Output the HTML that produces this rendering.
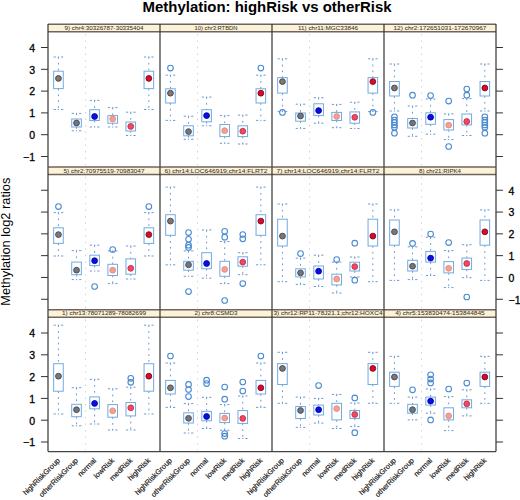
<!DOCTYPE html>
<html><head><meta charset="utf-8"><title>Methylation: highRisk vs otherRisk</title>
<style>html,body{margin:0;padding:0;background:#fff;}svg{display:block;}text{font-family:"Liberation Sans", sans-serif;}.u{stroke:#6a9ad2;stroke-width:1;stroke-dasharray:1.8 4;fill:none;}.c{stroke:#6a9ad2;stroke-width:1;fill:none;}.b{stroke:#72aae2;stroke-width:1;fill:none;}.o{stroke:#4a8ad0;stroke-width:1.1;fill:none;}</style></head><body>
<svg width="520" height="500" viewBox="0 0 520 500">
<rect width="520" height="500" fill="#fff"/>
<g>
<text x="267.1" y="11.5" text-anchor="middle" font-size="14.2" font-weight="bold" fill="#000" textLength="249" lengthAdjust="spacingAndGlyphs">Methylation: highRisk vs otherRisk</text>
<text transform="translate(10.2,241.7) rotate(-90)" text-anchor="middle" font-size="12" fill="#000" textLength="128" lengthAdjust="spacingAndGlyphs">Methylation log2 ratios</text>
<rect x="48" y="24" width="112" height="8" fill="#fcf2da"/>
<text x="104" y="29.95" text-anchor="middle" font-size="5.8" fill="#3e3226" stroke="#3e3226" stroke-width="0.05" textLength="79" lengthAdjust="spacingAndGlyphs">9) chr4:30326787-30335404</text>
<line x1="85.57" y1="34" x2="85.57" y2="165.75" stroke="#d8d0d0" stroke-width="1" stroke-dasharray="1.5 5"/>
<line x1="58.45" y1="57" x2="58.45" y2="71.2" class="u"/>
<line x1="58.45" y1="88.6" x2="58.45" y2="109.5" class="u"/>
<path d="M53.65 57h2.2M57.85 57h1.2M61.05 57h2.2" class="c"/>
<path d="M53.65 109.5h2.2M57.85 109.5h1.2M61.05 109.5h2.2" class="c"/>
<rect x="53.65" y="71.2" width="9.6" height="17.4" class="b"/>
<circle cx="58.45" cy="78.4" r="2.9" fill="#7c7878" stroke="#484242" stroke-width="0.9"/>
<line x1="76.53" y1="113.4" x2="76.53" y2="119" class="u"/>
<line x1="76.53" y1="127" x2="76.53" y2="130.8" class="u"/>
<path d="M71.73 113.4h2.2M75.93 113.4h1.2M79.13 113.4h2.2" class="c"/>
<path d="M71.73 130.8h2.2M75.93 130.8h1.2M79.13 130.8h2.2" class="c"/>
<rect x="71.73" y="119" width="9.6" height="8" class="b"/>
<circle cx="76.53" cy="123" r="2.9" fill="#70767c" stroke="#434a52" stroke-width="0.9"/>
<line x1="94.61" y1="100.4" x2="94.61" y2="109.7" class="u"/>
<line x1="94.61" y1="120.5" x2="94.61" y2="127" class="u"/>
<path d="M89.81 100.4h2.2M94.01 100.4h1.2M97.21 100.4h2.2" class="c"/>
<path d="M89.81 127h2.2M94.01 127h1.2M97.21 127h2.2" class="c"/>
<rect x="89.81" y="109.7" width="9.6" height="10.8" class="b"/>
<circle cx="94.61" cy="116.5" r="2.9" fill="#0a0ee0" stroke="#0000a8" stroke-width="0.9"/>
<line x1="112.69" y1="107.6" x2="112.69" y2="115.6" class="u"/>
<line x1="112.69" y1="123.2" x2="112.69" y2="127" class="u"/>
<path d="M107.89 107.6h2.2M112.09 107.6h1.2M115.29 107.6h2.2" class="c"/>
<path d="M107.89 127h2.2M112.09 127h1.2M115.29 127h2.2" class="c"/>
<rect x="107.89" y="115.6" width="9.6" height="7.6" class="b"/>
<circle cx="112.69" cy="119" r="2.9" fill="#f4a090" stroke="#e48a80" stroke-width="0.9"/>
<line x1="130.77" y1="112.2" x2="130.77" y2="122" class="u"/>
<line x1="130.77" y1="131" x2="130.77" y2="135.5" class="u"/>
<path d="M125.97 112.2h2.2M130.17 112.2h1.2M133.37 112.2h2.2" class="c"/>
<path d="M125.97 135.5h2.2M130.17 135.5h1.2M133.37 135.5h2.2" class="c"/>
<rect x="125.97" y="122" width="9.6" height="9" class="b"/>
<circle cx="130.77" cy="126.4" r="2.9" fill="#ea4a62" stroke="#c82a44" stroke-width="0.9"/>
<line x1="148.85" y1="57" x2="148.85" y2="71.2" class="u"/>
<line x1="148.85" y1="88.6" x2="148.85" y2="109.5" class="u"/>
<path d="M144.05 57h2.2M148.25 57h1.2M151.45 57h2.2" class="c"/>
<path d="M144.05 109.5h2.2M148.25 109.5h1.2M151.45 109.5h2.2" class="c"/>
<rect x="144.05" y="71.2" width="9.6" height="17.4" class="b"/>
<circle cx="148.85" cy="78.4" r="2.9" fill="#d0102a" stroke="#900018" stroke-width="0.9"/>
<line x1="48" y1="24.2" x2="160" y2="24.2" stroke="#6e6658" stroke-width="1.4"/>
<line x1="48" y1="31.7" x2="160" y2="31.7" stroke="#6e6658" stroke-width="1.4"/>
<rect x="160" y="24" width="112" height="8" fill="#fcf2da"/>
<text x="216" y="29.95" text-anchor="middle" font-size="5.8" fill="#3e3226" stroke="#3e3226" stroke-width="0.05" textLength="43" lengthAdjust="spacingAndGlyphs">10) chr3:RTBDN</text>
<line x1="197.57" y1="34" x2="197.57" y2="165.75" stroke="#d8d0d0" stroke-width="1" stroke-dasharray="1.5 5"/>
<line x1="170.45" y1="75.2" x2="170.45" y2="88.8" class="u"/>
<line x1="170.45" y1="103" x2="170.45" y2="120.4" class="u"/>
<path d="M165.65 75.2h2.2M169.85 75.2h1.2M173.05 75.2h2.2" class="c"/>
<path d="M165.65 120.4h2.2M169.85 120.4h1.2M173.05 120.4h2.2" class="c"/>
<rect x="165.65" y="88.8" width="9.6" height="14.2" class="b"/>
<circle cx="170.45" cy="68.1" r="2.8" class="o"/>
<circle cx="170.45" cy="93.2" r="2.9" fill="#7c7878" stroke="#484242" stroke-width="0.9"/>
<line x1="188.53" y1="116.2" x2="188.53" y2="125.8" class="u"/>
<line x1="188.53" y1="135.8" x2="188.53" y2="139.3" class="u"/>
<path d="M183.73 116.2h2.2M187.93 116.2h1.2M191.13 116.2h2.2" class="c"/>
<path d="M183.73 139.3h2.2M187.93 139.3h1.2M191.13 139.3h2.2" class="c"/>
<rect x="183.73" y="125.8" width="9.6" height="10" class="b"/>
<circle cx="188.53" cy="131.6" r="2.9" fill="#70767c" stroke="#434a52" stroke-width="0.9"/>
<line x1="206.61" y1="97.1" x2="206.61" y2="109.7" class="u"/>
<line x1="206.61" y1="121.8" x2="206.61" y2="125.8" class="u"/>
<path d="M201.81 97.1h2.2M206.01 97.1h1.2M209.21 97.1h2.2" class="c"/>
<path d="M201.81 125.8h2.2M206.01 125.8h1.2M209.21 125.8h2.2" class="c"/>
<rect x="201.81" y="109.7" width="9.6" height="12.1" class="b"/>
<circle cx="206.61" cy="115.6" r="2.9" fill="#0a0ee0" stroke="#0000a8" stroke-width="0.9"/>
<line x1="224.69" y1="115.6" x2="224.69" y2="124.5" class="u"/>
<line x1="224.69" y1="136.6" x2="224.69" y2="143.3" class="u"/>
<path d="M219.89 115.6h2.2M224.09 115.6h1.2M227.29 115.6h2.2" class="c"/>
<path d="M219.89 143.3h2.2M224.09 143.3h1.2M227.29 143.3h2.2" class="c"/>
<rect x="219.89" y="124.5" width="9.6" height="12.1" class="b"/>
<circle cx="224.69" cy="130.7" r="2.9" fill="#f4a090" stroke="#e48a80" stroke-width="0.9"/>
<line x1="242.77" y1="115.1" x2="242.77" y2="125.8" class="u"/>
<line x1="242.77" y1="136.6" x2="242.77" y2="144" class="u"/>
<path d="M237.97 115.1h2.2M242.17 115.1h1.2M245.37 115.1h2.2" class="c"/>
<path d="M237.97 144h2.2M242.17 144h1.2M245.37 144h2.2" class="c"/>
<rect x="237.97" y="125.8" width="9.6" height="10.8" class="b"/>
<circle cx="242.77" cy="131.2" r="2.9" fill="#ea4a62" stroke="#c82a44" stroke-width="0.9"/>
<line x1="260.85" y1="75.2" x2="260.85" y2="88.8" class="u"/>
<line x1="260.85" y1="103" x2="260.85" y2="120.4" class="u"/>
<path d="M256.05 75.2h2.2M260.25 75.2h1.2M263.45 75.2h2.2" class="c"/>
<path d="M256.05 120.4h2.2M260.25 120.4h1.2M263.45 120.4h2.2" class="c"/>
<rect x="256.05" y="88.8" width="9.6" height="14.2" class="b"/>
<circle cx="260.85" cy="68.1" r="2.8" class="o"/>
<circle cx="260.85" cy="93.2" r="2.9" fill="#d0102a" stroke="#900018" stroke-width="0.9"/>
<line x1="160" y1="24.2" x2="272" y2="24.2" stroke="#6e6658" stroke-width="1.4"/>
<line x1="160" y1="31.7" x2="272" y2="31.7" stroke="#6e6658" stroke-width="1.4"/>
<rect x="272" y="24" width="112" height="8" fill="#fcf2da"/>
<text x="328" y="29.95" text-anchor="middle" font-size="5.8" fill="#3e3226" stroke="#3e3226" stroke-width="0.05" textLength="60" lengthAdjust="spacingAndGlyphs">11) chr11:MGC33846</text>
<line x1="309.57" y1="34" x2="309.57" y2="165.75" stroke="#d8d0d0" stroke-width="1" stroke-dasharray="1.5 5"/>
<line x1="282.45" y1="58.8" x2="282.45" y2="77.6" class="u"/>
<line x1="282.45" y1="93.1" x2="282.45" y2="111.6" class="u"/>
<path d="M277.65 58.8h2.2M281.85 58.8h1.2M285.05 58.8h2.2" class="c"/>
<path d="M277.65 111.6h2.2M281.85 111.6h1.2M285.05 111.6h2.2" class="c"/>
<rect x="277.65" y="77.6" width="9.6" height="15.5" class="b"/>
<circle cx="282.45" cy="112.4" r="2.8" class="o"/>
<circle cx="282.45" cy="81.6" r="2.9" fill="#7c7878" stroke="#484242" stroke-width="0.9"/>
<line x1="300.53" y1="104.2" x2="300.53" y2="113" class="u"/>
<line x1="300.53" y1="121.2" x2="300.53" y2="128.4" class="u"/>
<path d="M295.73 104.2h2.2M299.93 104.2h1.2M303.13 104.2h2.2" class="c"/>
<path d="M295.73 128.4h2.2M299.93 128.4h1.2M303.13 128.4h2.2" class="c"/>
<rect x="295.73" y="113" width="9.6" height="8.2" class="b"/>
<circle cx="300.53" cy="116" r="2.9" fill="#70767c" stroke="#434a52" stroke-width="0.9"/>
<line x1="318.61" y1="97.7" x2="318.61" y2="103.8" class="u"/>
<line x1="318.61" y1="115.6" x2="318.61" y2="123.2" class="u"/>
<path d="M313.81 97.7h2.2M318.01 97.7h1.2M321.21 97.7h2.2" class="c"/>
<path d="M313.81 123.2h2.2M318.01 123.2h1.2M321.21 123.2h2.2" class="c"/>
<rect x="313.81" y="103.8" width="9.6" height="11.8" class="b"/>
<circle cx="318.61" cy="110.6" r="2.9" fill="#0a0ee0" stroke="#0000a8" stroke-width="0.9"/>
<line x1="336.69" y1="104.4" x2="336.69" y2="112.4" class="u"/>
<line x1="336.69" y1="120.5" x2="336.69" y2="127.7" class="u"/>
<path d="M331.89 104.4h2.2M336.09 104.4h1.2M339.29 104.4h2.2" class="c"/>
<path d="M331.89 127.7h2.2M336.09 127.7h1.2M339.29 127.7h2.2" class="c"/>
<rect x="331.89" y="112.4" width="9.6" height="8.1" class="b"/>
<circle cx="336.69" cy="116.5" r="2.9" fill="#f4a090" stroke="#e48a80" stroke-width="0.9"/>
<line x1="354.77" y1="102.2" x2="354.77" y2="111.9" class="u"/>
<line x1="354.77" y1="123.2" x2="354.77" y2="128.5" class="u"/>
<path d="M349.97 102.2h2.2M354.17 102.2h1.2M357.37 102.2h2.2" class="c"/>
<path d="M349.97 128.5h2.2M354.17 128.5h1.2M357.37 128.5h2.2" class="c"/>
<rect x="349.97" y="111.9" width="9.6" height="11.3" class="b"/>
<circle cx="354.77" cy="117.3" r="2.9" fill="#ea4a62" stroke="#c82a44" stroke-width="0.9"/>
<line x1="372.85" y1="58.8" x2="372.85" y2="77.6" class="u"/>
<line x1="372.85" y1="93.1" x2="372.85" y2="111.6" class="u"/>
<path d="M368.05 58.8h2.2M372.25 58.8h1.2M375.45 58.8h2.2" class="c"/>
<path d="M368.05 111.6h2.2M372.25 111.6h1.2M375.45 111.6h2.2" class="c"/>
<rect x="368.05" y="77.6" width="9.6" height="15.5" class="b"/>
<circle cx="372.85" cy="112.4" r="2.8" class="o"/>
<circle cx="372.85" cy="81.6" r="2.9" fill="#d0102a" stroke="#900018" stroke-width="0.9"/>
<line x1="272" y1="24.2" x2="384" y2="24.2" stroke="#6e6658" stroke-width="1.4"/>
<line x1="272" y1="31.7" x2="384" y2="31.7" stroke="#6e6658" stroke-width="1.4"/>
<rect x="384" y="24" width="112" height="8" fill="#fcf2da"/>
<text x="440" y="29.95" text-anchor="middle" font-size="5.8" fill="#3e3226" stroke="#3e3226" stroke-width="0.05" textLength="93" lengthAdjust="spacingAndGlyphs">12) chr2:172651031-172670967</text>
<line x1="421.57" y1="34" x2="421.57" y2="165.75" stroke="#d8d0d0" stroke-width="1" stroke-dasharray="1.5 5"/>
<line x1="394.45" y1="64" x2="394.45" y2="81.5" class="u"/>
<line x1="394.45" y1="96" x2="394.45" y2="111" class="u"/>
<path d="M389.65 64h2.2M393.85 64h1.2M397.05 64h2.2" class="c"/>
<path d="M389.65 111h2.2M393.85 111h1.2M397.05 111h2.2" class="c"/>
<rect x="389.65" y="81.5" width="9.6" height="14.5" class="b"/>
<circle cx="394.45" cy="116.8" r="2.8" class="o"/>
<circle cx="394.45" cy="120" r="2.8" class="o"/>
<circle cx="394.45" cy="122.5" r="2.8" class="o"/>
<circle cx="394.45" cy="125" r="2.8" class="o"/>
<circle cx="394.45" cy="127.3" r="2.8" class="o"/>
<circle cx="394.45" cy="133.2" r="2.8" class="o"/>
<circle cx="394.45" cy="88" r="2.9" fill="#7c7878" stroke="#484242" stroke-width="0.9"/>
<line x1="412.53" y1="106" x2="412.53" y2="118.5" class="u"/>
<line x1="412.53" y1="128" x2="412.53" y2="136.3" class="u"/>
<path d="M407.73 106h2.2M411.93 106h1.2M415.13 106h2.2" class="c"/>
<path d="M407.73 136.3h2.2M411.93 136.3h1.2M415.13 136.3h2.2" class="c"/>
<rect x="407.73" y="118.5" width="9.6" height="9.5" class="b"/>
<circle cx="412.53" cy="95.2" r="2.8" class="o"/>
<circle cx="412.53" cy="123" r="2.9" fill="#70767c" stroke="#434a52" stroke-width="0.9"/>
<line x1="430.61" y1="99" x2="430.61" y2="112.8" class="u"/>
<line x1="430.61" y1="124.3" x2="430.61" y2="134.2" class="u"/>
<path d="M425.81 99h2.2M430.01 99h1.2M433.21 99h2.2" class="c"/>
<path d="M425.81 134.2h2.2M430.01 134.2h1.2M433.21 134.2h2.2" class="c"/>
<rect x="425.81" y="112.8" width="9.6" height="11.5" class="b"/>
<circle cx="430.61" cy="95.6" r="2.8" class="o"/>
<circle cx="430.61" cy="117.2" r="2.9" fill="#0a0ee0" stroke="#0000a8" stroke-width="0.9"/>
<line x1="448.69" y1="113.9" x2="448.69" y2="119.6" class="u"/>
<line x1="448.69" y1="130" x2="448.69" y2="139.6" class="u"/>
<path d="M443.89 113.9h2.2M448.09 113.9h1.2M451.29 113.9h2.2" class="c"/>
<path d="M443.89 139.6h2.2M448.09 139.6h1.2M451.29 139.6h2.2" class="c"/>
<rect x="443.89" y="119.6" width="9.6" height="10.4" class="b"/>
<circle cx="448.69" cy="101.1" r="2.8" class="o"/>
<circle cx="448.69" cy="146.5" r="2.8" class="o"/>
<circle cx="448.69" cy="125.2" r="2.9" fill="#f4a090" stroke="#e48a80" stroke-width="0.9"/>
<line x1="466.77" y1="98.6" x2="466.77" y2="114" class="u"/>
<line x1="466.77" y1="124.9" x2="466.77" y2="135.5" class="u"/>
<path d="M461.97 98.6h2.2M466.17 98.6h1.2M469.37 98.6h2.2" class="c"/>
<path d="M461.97 135.5h2.2M466.17 135.5h1.2M469.37 135.5h2.2" class="c"/>
<rect x="461.97" y="114" width="9.6" height="10.9" class="b"/>
<circle cx="466.77" cy="89" r="2.8" class="o"/>
<circle cx="466.77" cy="95.2" r="2.8" class="o"/>
<circle cx="466.77" cy="121.5" r="2.9" fill="#ea4a62" stroke="#c82a44" stroke-width="0.9"/>
<line x1="484.85" y1="64" x2="484.85" y2="81.5" class="u"/>
<line x1="484.85" y1="96" x2="484.85" y2="111" class="u"/>
<path d="M480.05 64h2.2M484.25 64h1.2M487.45 64h2.2" class="c"/>
<path d="M480.05 111h2.2M484.25 111h1.2M487.45 111h2.2" class="c"/>
<rect x="480.05" y="81.5" width="9.6" height="14.5" class="b"/>
<circle cx="484.85" cy="116.8" r="2.8" class="o"/>
<circle cx="484.85" cy="120" r="2.8" class="o"/>
<circle cx="484.85" cy="122.5" r="2.8" class="o"/>
<circle cx="484.85" cy="125" r="2.8" class="o"/>
<circle cx="484.85" cy="127.3" r="2.8" class="o"/>
<circle cx="484.85" cy="133.2" r="2.8" class="o"/>
<circle cx="484.85" cy="88" r="2.9" fill="#d0102a" stroke="#900018" stroke-width="0.9"/>
<line x1="384" y1="24.2" x2="496" y2="24.2" stroke="#6e6658" stroke-width="1.4"/>
<line x1="384" y1="31.7" x2="496" y2="31.7" stroke="#6e6658" stroke-width="1.4"/>
<line x1="48" y1="24" x2="48" y2="166.75" stroke="#333" stroke-width="1.2"/>
<line x1="160" y1="24" x2="160" y2="166.75" stroke="#333" stroke-width="1.2"/>
<line x1="272" y1="24" x2="272" y2="166.75" stroke="#333" stroke-width="1.2"/>
<line x1="384" y1="24" x2="384" y2="166.75" stroke="#333" stroke-width="1.2"/>
<line x1="496" y1="24" x2="496" y2="166.75" stroke="#333" stroke-width="1.2"/>
<rect x="48" y="166.75" width="112" height="8" fill="#fcf2da"/>
<text x="104" y="172.7" text-anchor="middle" font-size="5.8" fill="#3e3226" stroke="#3e3226" stroke-width="0.05" textLength="81" lengthAdjust="spacingAndGlyphs">5) chr2:70975519-70983047</text>
<line x1="85.57" y1="176.75" x2="85.57" y2="308.5" stroke="#d8d0d0" stroke-width="1" stroke-dasharray="1.5 5"/>
<line x1="58.45" y1="212.6" x2="58.45" y2="227.8" class="u"/>
<line x1="58.45" y1="243.4" x2="58.45" y2="256" class="u"/>
<path d="M53.65 212.6h2.2M57.85 212.6h1.2M61.05 212.6h2.2" class="c"/>
<path d="M53.65 256h2.2M57.85 256h1.2M61.05 256h2.2" class="c"/>
<rect x="53.65" y="227.8" width="9.6" height="15.6" class="b"/>
<circle cx="58.45" cy="206.6" r="2.8" class="o"/>
<circle cx="58.45" cy="234.6" r="2.9" fill="#7c7878" stroke="#484242" stroke-width="0.9"/>
<line x1="76.53" y1="250.6" x2="76.53" y2="262.1" class="u"/>
<line x1="76.53" y1="274.7" x2="76.53" y2="279.6" class="u"/>
<path d="M71.73 250.6h2.2M75.93 250.6h1.2M79.13 250.6h2.2" class="c"/>
<path d="M71.73 279.6h2.2M75.93 279.6h1.2M79.13 279.6h2.2" class="c"/>
<rect x="71.73" y="262.1" width="9.6" height="12.6" class="b"/>
<circle cx="76.53" cy="270.2" r="2.9" fill="#70767c" stroke="#434a52" stroke-width="0.9"/>
<line x1="94.61" y1="245.2" x2="94.61" y2="255.2" class="u"/>
<line x1="94.61" y1="265.6" x2="94.61" y2="271" class="u"/>
<path d="M89.81 245.2h2.2M94.01 245.2h1.2M97.21 245.2h2.2" class="c"/>
<path d="M89.81 271h2.2M94.01 271h1.2M97.21 271h2.2" class="c"/>
<rect x="89.81" y="255.2" width="9.6" height="10.4" class="b"/>
<circle cx="94.61" cy="286.5" r="2.8" class="o"/>
<circle cx="94.61" cy="260.7" r="2.9" fill="#0a0ee0" stroke="#0000a8" stroke-width="0.9"/>
<line x1="112.69" y1="250.9" x2="112.69" y2="264.3" class="u"/>
<line x1="112.69" y1="275.5" x2="112.69" y2="283.6" class="u"/>
<path d="M107.89 250.9h2.2M112.09 250.9h1.2M115.29 250.9h2.2" class="c"/>
<path d="M107.89 283.6h2.2M112.09 283.6h1.2M115.29 283.6h2.2" class="c"/>
<rect x="107.89" y="264.3" width="9.6" height="11.2" class="b"/>
<circle cx="112.69" cy="249.5" r="2.8" class="o"/>
<circle cx="112.69" cy="270.2" r="2.9" fill="#f4a090" stroke="#e48a80" stroke-width="0.9"/>
<line x1="130.77" y1="246" x2="130.77" y2="258.9" class="u"/>
<line x1="130.77" y1="274.2" x2="130.77" y2="279" class="u"/>
<path d="M125.97 246h2.2M130.17 246h1.2M133.37 246h2.2" class="c"/>
<path d="M125.97 279h2.2M130.17 279h1.2M133.37 279h2.2" class="c"/>
<rect x="125.97" y="258.9" width="9.6" height="15.3" class="b"/>
<circle cx="130.77" cy="268.3" r="2.9" fill="#ea4a62" stroke="#c82a44" stroke-width="0.9"/>
<line x1="148.85" y1="212.6" x2="148.85" y2="227.8" class="u"/>
<line x1="148.85" y1="243.4" x2="148.85" y2="256" class="u"/>
<path d="M144.05 212.6h2.2M148.25 212.6h1.2M151.45 212.6h2.2" class="c"/>
<path d="M144.05 256h2.2M148.25 256h1.2M151.45 256h2.2" class="c"/>
<rect x="144.05" y="227.8" width="9.6" height="15.6" class="b"/>
<circle cx="148.85" cy="206.6" r="2.8" class="o"/>
<circle cx="148.85" cy="234.6" r="2.9" fill="#d0102a" stroke="#900018" stroke-width="0.9"/>
<line x1="48" y1="166.95" x2="160" y2="166.95" stroke="#6e6658" stroke-width="1.4"/>
<line x1="48" y1="174.45" x2="160" y2="174.45" stroke="#6e6658" stroke-width="1.4"/>
<rect x="160" y="166.75" width="112" height="8" fill="#fcf2da"/>
<text x="216" y="172.7" text-anchor="middle" font-size="5.8" fill="#3e3226" stroke="#3e3226" stroke-width="0.05" textLength="103" lengthAdjust="spacingAndGlyphs">6) chr14:LOC646919;chr14:FLRT2</text>
<line x1="197.57" y1="176.75" x2="197.57" y2="308.5" stroke="#d8d0d0" stroke-width="1" stroke-dasharray="1.5 5"/>
<line x1="170.45" y1="187.1" x2="170.45" y2="214.7" class="u"/>
<line x1="170.45" y1="235.3" x2="170.45" y2="264.8" class="u"/>
<path d="M165.65 187.1h2.2M169.85 187.1h1.2M173.05 187.1h2.2" class="c"/>
<path d="M165.65 264.8h2.2M169.85 264.8h1.2M173.05 264.8h2.2" class="c"/>
<rect x="165.65" y="214.7" width="9.6" height="20.6" class="b"/>
<circle cx="170.45" cy="221.1" r="2.9" fill="#7c7878" stroke="#484242" stroke-width="0.9"/>
<line x1="188.53" y1="250.9" x2="188.53" y2="261.3" class="u"/>
<line x1="188.53" y1="270.2" x2="188.53" y2="276.3" class="u"/>
<path d="M183.73 250.9h2.2M187.93 250.9h1.2M191.13 250.9h2.2" class="c"/>
<path d="M183.73 276.3h2.2M187.93 276.3h1.2M191.13 276.3h2.2" class="c"/>
<rect x="183.73" y="261.3" width="9.6" height="8.9" class="b"/>
<circle cx="188.53" cy="232.6" r="2.8" class="o"/>
<circle cx="188.53" cy="239.3" r="2.8" class="o"/>
<circle cx="188.53" cy="245.2" r="2.8" class="o"/>
<circle cx="188.53" cy="247.4" r="2.8" class="o"/>
<circle cx="188.53" cy="291.6" r="2.8" class="o"/>
<circle cx="188.53" cy="264.8" r="2.9" fill="#70767c" stroke="#434a52" stroke-width="0.9"/>
<line x1="206.61" y1="230" x2="206.61" y2="252.7" class="u"/>
<line x1="206.61" y1="268.8" x2="206.61" y2="278.2" class="u"/>
<path d="M201.81 230h2.2M206.01 230h1.2M209.21 230h2.2" class="c"/>
<path d="M201.81 278.2h2.2M206.01 278.2h1.2M209.21 278.2h2.2" class="c"/>
<rect x="201.81" y="252.7" width="9.6" height="16.1" class="b"/>
<circle cx="206.61" cy="263.5" r="2.9" fill="#0a0ee0" stroke="#0000a8" stroke-width="0.9"/>
<line x1="224.69" y1="241.5" x2="224.69" y2="261.3" class="u"/>
<line x1="224.69" y1="276.3" x2="224.69" y2="283.6" class="u"/>
<path d="M219.89 241.5h2.2M224.09 241.5h1.2M227.29 241.5h2.2" class="c"/>
<path d="M219.89 283.6h2.2M224.09 283.6h1.2M227.29 283.6h2.2" class="c"/>
<rect x="219.89" y="261.3" width="9.6" height="15" class="b"/>
<circle cx="224.69" cy="231.3" r="2.8" class="o"/>
<circle cx="224.69" cy="237.2" r="2.8" class="o"/>
<circle cx="224.69" cy="300.5" r="2.8" class="o"/>
<circle cx="224.69" cy="269.4" r="2.9" fill="#f4a090" stroke="#e48a80" stroke-width="0.9"/>
<line x1="242.77" y1="252.7" x2="242.77" y2="256.8" class="u"/>
<line x1="242.77" y1="266.2" x2="242.77" y2="274.7" class="u"/>
<path d="M237.97 252.7h2.2M242.17 252.7h1.2M245.37 252.7h2.2" class="c"/>
<path d="M237.97 274.7h2.2M242.17 274.7h1.2M245.37 274.7h2.2" class="c"/>
<rect x="237.97" y="256.8" width="9.6" height="9.4" class="b"/>
<circle cx="242.77" cy="234.5" r="2.8" class="o"/>
<circle cx="242.77" cy="238.8" r="2.8" class="o"/>
<circle cx="242.77" cy="283.6" r="2.8" class="o"/>
<circle cx="242.77" cy="262.1" r="2.9" fill="#ea4a62" stroke="#c82a44" stroke-width="0.9"/>
<line x1="260.85" y1="187.1" x2="260.85" y2="214.7" class="u"/>
<line x1="260.85" y1="235.3" x2="260.85" y2="264.8" class="u"/>
<path d="M256.05 187.1h2.2M260.25 187.1h1.2M263.45 187.1h2.2" class="c"/>
<path d="M256.05 264.8h2.2M260.25 264.8h1.2M263.45 264.8h2.2" class="c"/>
<rect x="256.05" y="214.7" width="9.6" height="20.6" class="b"/>
<circle cx="260.85" cy="221.1" r="2.9" fill="#d0102a" stroke="#900018" stroke-width="0.9"/>
<line x1="160" y1="166.95" x2="272" y2="166.95" stroke="#6e6658" stroke-width="1.4"/>
<line x1="160" y1="174.45" x2="272" y2="174.45" stroke="#6e6658" stroke-width="1.4"/>
<rect x="272" y="166.75" width="112" height="8" fill="#fcf2da"/>
<text x="328" y="172.7" text-anchor="middle" font-size="5.8" fill="#3e3226" stroke="#3e3226" stroke-width="0.05" textLength="103" lengthAdjust="spacingAndGlyphs">7) chr14:LOC646919;chr14:FLRT2</text>
<line x1="309.57" y1="176.75" x2="309.57" y2="308.5" stroke="#d8d0d0" stroke-width="1" stroke-dasharray="1.5 5"/>
<line x1="282.45" y1="204" x2="282.45" y2="219.2" class="u"/>
<line x1="282.45" y1="246" x2="282.45" y2="281.7" class="u"/>
<path d="M277.65 204h2.2M281.85 204h1.2M285.05 204h2.2" class="c"/>
<path d="M277.65 281.7h2.2M281.85 281.7h1.2M285.05 281.7h2.2" class="c"/>
<rect x="277.65" y="219.2" width="9.6" height="26.8" class="b"/>
<circle cx="282.45" cy="236.1" r="2.9" fill="#7c7878" stroke="#484242" stroke-width="0.9"/>
<line x1="300.53" y1="258.1" x2="300.53" y2="268.8" class="u"/>
<line x1="300.53" y1="276.9" x2="300.53" y2="284.4" class="u"/>
<path d="M295.73 258.1h2.2M299.93 258.1h1.2M303.13 258.1h2.2" class="c"/>
<path d="M295.73 284.4h2.2M299.93 284.4h1.2M303.13 284.4h2.2" class="c"/>
<rect x="295.73" y="268.8" width="9.6" height="8.1" class="b"/>
<circle cx="300.53" cy="253.6" r="2.8" class="o"/>
<circle cx="300.53" cy="272.9" r="2.9" fill="#70767c" stroke="#434a52" stroke-width="0.9"/>
<line x1="318.61" y1="255.2" x2="318.61" y2="266" class="u"/>
<line x1="318.61" y1="279" x2="318.61" y2="286.5" class="u"/>
<path d="M313.81 255.2h2.2M318.01 255.2h1.2M321.21 255.2h2.2" class="c"/>
<path d="M313.81 286.5h2.2M318.01 286.5h1.2M321.21 286.5h2.2" class="c"/>
<rect x="313.81" y="266" width="9.6" height="13" class="b"/>
<circle cx="318.61" cy="271.2" r="2.9" fill="#0a0ee0" stroke="#0000a8" stroke-width="0.9"/>
<line x1="336.69" y1="262.1" x2="336.69" y2="274.2" class="u"/>
<line x1="336.69" y1="284.9" x2="336.69" y2="293" class="u"/>
<path d="M331.89 262.1h2.2M336.09 262.1h1.2M339.29 262.1h2.2" class="c"/>
<path d="M331.89 293h2.2M336.09 293h1.2M339.29 293h2.2" class="c"/>
<rect x="331.89" y="274.2" width="9.6" height="10.7" class="b"/>
<circle cx="336.69" cy="259.5" r="2.8" class="o"/>
<circle cx="336.69" cy="279" r="2.9" fill="#f4a090" stroke="#e48a80" stroke-width="0.9"/>
<line x1="354.77" y1="257" x2="354.77" y2="262.2" class="u"/>
<line x1="354.77" y1="271" x2="354.77" y2="277" class="u"/>
<path d="M349.97 257h2.2M354.17 257h1.2M357.37 257h2.2" class="c"/>
<path d="M349.97 277h2.2M354.17 277h1.2M357.37 277h2.2" class="c"/>
<rect x="349.97" y="262.2" width="9.6" height="8.8" class="b"/>
<circle cx="354.77" cy="243.2" r="2.8" class="o"/>
<circle cx="354.77" cy="280.2" r="2.8" class="o"/>
<circle cx="354.77" cy="266.6" r="2.9" fill="#ea4a62" stroke="#c82a44" stroke-width="0.9"/>
<line x1="372.85" y1="204" x2="372.85" y2="219.2" class="u"/>
<line x1="372.85" y1="246" x2="372.85" y2="281.7" class="u"/>
<path d="M368.05 204h2.2M372.25 204h1.2M375.45 204h2.2" class="c"/>
<path d="M368.05 281.7h2.2M372.25 281.7h1.2M375.45 281.7h2.2" class="c"/>
<rect x="368.05" y="219.2" width="9.6" height="26.8" class="b"/>
<circle cx="372.85" cy="236.1" r="2.9" fill="#d0102a" stroke="#900018" stroke-width="0.9"/>
<line x1="272" y1="166.95" x2="384" y2="166.95" stroke="#6e6658" stroke-width="1.4"/>
<line x1="272" y1="174.45" x2="384" y2="174.45" stroke="#6e6658" stroke-width="1.4"/>
<rect x="384" y="166.75" width="112" height="8" fill="#fcf2da"/>
<text x="440" y="172.7" text-anchor="middle" font-size="5.8" fill="#3e3226" stroke="#3e3226" stroke-width="0.05" textLength="42" lengthAdjust="spacingAndGlyphs">8) chr21:RIPK4</text>
<line x1="421.57" y1="176.75" x2="421.57" y2="308.5" stroke="#d8d0d0" stroke-width="1" stroke-dasharray="1.5 5"/>
<line x1="394.45" y1="209.9" x2="394.45" y2="220" class="u"/>
<line x1="394.45" y1="245.2" x2="394.45" y2="280.4" class="u"/>
<path d="M389.65 209.9h2.2M393.85 209.9h1.2M397.05 209.9h2.2" class="c"/>
<path d="M389.65 280.4h2.2M393.85 280.4h1.2M397.05 280.4h2.2" class="c"/>
<rect x="389.65" y="220" width="9.6" height="25.2" class="b"/>
<circle cx="394.45" cy="231.8" r="2.9" fill="#7c7878" stroke="#484242" stroke-width="0.9"/>
<line x1="412.53" y1="246.8" x2="412.53" y2="260.3" class="u"/>
<line x1="412.53" y1="271" x2="412.53" y2="279.6" class="u"/>
<path d="M407.73 246.8h2.2M411.93 246.8h1.2M415.13 246.8h2.2" class="c"/>
<path d="M407.73 279.6h2.2M411.93 279.6h1.2M415.13 279.6h2.2" class="c"/>
<rect x="407.73" y="260.3" width="9.6" height="10.7" class="b"/>
<circle cx="412.53" cy="243.4" r="2.8" class="o"/>
<circle cx="412.53" cy="266.2" r="2.9" fill="#70767c" stroke="#434a52" stroke-width="0.9"/>
<line x1="430.61" y1="237.2" x2="430.61" y2="251.4" class="u"/>
<line x1="430.61" y1="262.1" x2="430.61" y2="275.5" class="u"/>
<path d="M425.81 237.2h2.2M430.01 237.2h1.2M433.21 237.2h2.2" class="c"/>
<path d="M425.81 275.5h2.2M430.01 275.5h1.2M433.21 275.5h2.2" class="c"/>
<rect x="425.81" y="251.4" width="9.6" height="10.7" class="b"/>
<circle cx="430.61" cy="234" r="2.8" class="o"/>
<circle cx="430.61" cy="258.1" r="2.9" fill="#0a0ee0" stroke="#0000a8" stroke-width="0.9"/>
<line x1="448.69" y1="250.6" x2="448.69" y2="261.6" class="u"/>
<line x1="448.69" y1="272.9" x2="448.69" y2="287.6" class="u"/>
<path d="M443.89 250.6h2.2M448.09 250.6h1.2M451.29 250.6h2.2" class="c"/>
<path d="M443.89 287.6h2.2M448.09 287.6h1.2M451.29 287.6h2.2" class="c"/>
<rect x="443.89" y="261.6" width="9.6" height="11.3" class="b"/>
<circle cx="448.69" cy="242.6" r="2.8" class="o"/>
<circle cx="448.69" cy="268.3" r="2.9" fill="#f4a090" stroke="#e48a80" stroke-width="0.9"/>
<line x1="466.77" y1="244.7" x2="466.77" y2="258.1" class="u"/>
<line x1="466.77" y1="269.4" x2="466.77" y2="277.7" class="u"/>
<path d="M461.97 244.7h2.2M466.17 244.7h1.2M469.37 244.7h2.2" class="c"/>
<path d="M461.97 277.7h2.2M466.17 277.7h1.2M469.37 277.7h2.2" class="c"/>
<rect x="461.97" y="258.1" width="9.6" height="11.3" class="b"/>
<circle cx="466.77" cy="297" r="2.8" class="o"/>
<circle cx="466.77" cy="263.5" r="2.9" fill="#ea4a62" stroke="#c82a44" stroke-width="0.9"/>
<line x1="484.85" y1="209.9" x2="484.85" y2="220" class="u"/>
<line x1="484.85" y1="245.2" x2="484.85" y2="280.4" class="u"/>
<path d="M480.05 209.9h2.2M484.25 209.9h1.2M487.45 209.9h2.2" class="c"/>
<path d="M480.05 280.4h2.2M484.25 280.4h1.2M487.45 280.4h2.2" class="c"/>
<rect x="480.05" y="220" width="9.6" height="25.2" class="b"/>
<circle cx="484.85" cy="231.8" r="2.9" fill="#d0102a" stroke="#900018" stroke-width="0.9"/>
<line x1="384" y1="166.95" x2="496" y2="166.95" stroke="#6e6658" stroke-width="1.4"/>
<line x1="384" y1="174.45" x2="496" y2="174.45" stroke="#6e6658" stroke-width="1.4"/>
<line x1="48" y1="166.75" x2="48" y2="309.5" stroke="#333" stroke-width="1.2"/>
<line x1="160" y1="166.75" x2="160" y2="309.5" stroke="#333" stroke-width="1.2"/>
<line x1="272" y1="166.75" x2="272" y2="309.5" stroke="#333" stroke-width="1.2"/>
<line x1="384" y1="166.75" x2="384" y2="309.5" stroke="#333" stroke-width="1.2"/>
<line x1="496" y1="166.75" x2="496" y2="309.5" stroke="#333" stroke-width="1.2"/>
<rect x="48" y="309.5" width="112" height="8" fill="#fcf2da"/>
<text x="104" y="315.45" text-anchor="middle" font-size="5.8" fill="#3e3226" stroke="#3e3226" stroke-width="0.05" textLength="84" lengthAdjust="spacingAndGlyphs">1) chr13:78071289-78082699</text>
<line x1="85.57" y1="319.5" x2="85.57" y2="450.5" stroke="#d8d0d0" stroke-width="1" stroke-dasharray="1.5 5"/>
<line x1="58.45" y1="325.2" x2="58.45" y2="363.7" class="u"/>
<line x1="58.45" y1="391.2" x2="58.45" y2="414" class="u"/>
<path d="M53.65 325.2h2.2M57.85 325.2h1.2M61.05 325.2h2.2" class="c"/>
<path d="M53.65 414h2.2M57.85 414h1.2M61.05 414h2.2" class="c"/>
<rect x="53.65" y="363.7" width="9.6" height="27.5" class="b"/>
<circle cx="58.45" cy="376.2" r="2.9" fill="#7c7878" stroke="#484242" stroke-width="0.9"/>
<line x1="76.53" y1="387.7" x2="76.53" y2="404.3" class="u"/>
<line x1="76.53" y1="416.7" x2="76.53" y2="425.8" class="u"/>
<path d="M71.73 387.7h2.2M75.93 387.7h1.2M79.13 387.7h2.2" class="c"/>
<path d="M71.73 425.8h2.2M75.93 425.8h1.2M79.13 425.8h2.2" class="c"/>
<rect x="71.73" y="404.3" width="9.6" height="12.4" class="b"/>
<circle cx="76.53" cy="409.7" r="2.9" fill="#70767c" stroke="#434a52" stroke-width="0.9"/>
<line x1="94.61" y1="379.3" x2="94.61" y2="396.9" class="u"/>
<line x1="94.61" y1="408.8" x2="94.61" y2="424" class="u"/>
<path d="M89.81 379.3h2.2M94.01 379.3h1.2M97.21 379.3h2.2" class="c"/>
<path d="M89.81 424h2.2M94.01 424h1.2M97.21 424h2.2" class="c"/>
<rect x="89.81" y="396.9" width="9.6" height="11.9" class="b"/>
<circle cx="94.61" cy="403.4" r="2.9" fill="#0a0ee0" stroke="#0000a8" stroke-width="0.9"/>
<line x1="112.69" y1="388.8" x2="112.69" y2="404.6" class="u"/>
<line x1="112.69" y1="417.2" x2="112.69" y2="430" class="u"/>
<path d="M107.89 388.8h2.2M112.09 388.8h1.2M115.29 388.8h2.2" class="c"/>
<path d="M107.89 430h2.2M112.09 430h1.2M115.29 430h2.2" class="c"/>
<rect x="107.89" y="404.6" width="9.6" height="12.6" class="b"/>
<circle cx="112.69" cy="410.8" r="2.9" fill="#f4a090" stroke="#e48a80" stroke-width="0.9"/>
<line x1="130.77" y1="387.2" x2="130.77" y2="402.5" class="u"/>
<line x1="130.77" y1="415.9" x2="130.77" y2="430" class="u"/>
<path d="M125.97 387.2h2.2M130.17 387.2h1.2M133.37 387.2h2.2" class="c"/>
<path d="M125.97 430h2.2M130.17 430h1.2M133.37 430h2.2" class="c"/>
<rect x="125.97" y="402.5" width="9.6" height="13.4" class="b"/>
<circle cx="130.77" cy="378.3" r="2.8" class="o"/>
<circle cx="130.77" cy="382.3" r="2.8" class="o"/>
<circle cx="130.77" cy="407.8" r="2.9" fill="#ea4a62" stroke="#c82a44" stroke-width="0.9"/>
<line x1="148.85" y1="325.2" x2="148.85" y2="363.7" class="u"/>
<line x1="148.85" y1="391.2" x2="148.85" y2="414" class="u"/>
<path d="M144.05 325.2h2.2M148.25 325.2h1.2M151.45 325.2h2.2" class="c"/>
<path d="M144.05 414h2.2M148.25 414h1.2M151.45 414h2.2" class="c"/>
<rect x="144.05" y="363.7" width="9.6" height="27.5" class="b"/>
<circle cx="148.85" cy="376.2" r="2.9" fill="#d0102a" stroke="#900018" stroke-width="0.9"/>
<line x1="48" y1="309.7" x2="160" y2="309.7" stroke="#6e6658" stroke-width="1.4"/>
<line x1="48" y1="317.2" x2="160" y2="317.2" stroke="#6e6658" stroke-width="1.4"/>
<rect x="160" y="309.5" width="112" height="8" fill="#fcf2da"/>
<text x="216" y="315.45" text-anchor="middle" font-size="5.8" fill="#3e3226" stroke="#3e3226" stroke-width="0.05" textLength="43" lengthAdjust="spacingAndGlyphs">2) chr8:CSMD3</text>
<line x1="197.57" y1="319.5" x2="197.57" y2="450.5" stroke="#d8d0d0" stroke-width="1" stroke-dasharray="1.5 5"/>
<line x1="170.45" y1="363" x2="170.45" y2="380.4" class="u"/>
<line x1="170.45" y1="394" x2="170.45" y2="407.4" class="u"/>
<path d="M165.65 363h2.2M169.85 363h1.2M173.05 363h2.2" class="c"/>
<path d="M165.65 407.4h2.2M169.85 407.4h1.2M173.05 407.4h2.2" class="c"/>
<rect x="165.65" y="380.4" width="9.6" height="13.6" class="b"/>
<circle cx="170.45" cy="356" r="2.8" class="o"/>
<circle cx="170.45" cy="387.8" r="2.9" fill="#7c7878" stroke="#484242" stroke-width="0.9"/>
<line x1="188.53" y1="403.6" x2="188.53" y2="412.8" class="u"/>
<line x1="188.53" y1="423" x2="188.53" y2="433" class="u"/>
<path d="M183.73 403.6h2.2M187.93 403.6h1.2M191.13 403.6h2.2" class="c"/>
<path d="M183.73 433h2.2M187.93 433h1.2M191.13 433h2.2" class="c"/>
<rect x="183.73" y="412.8" width="9.6" height="10.2" class="b"/>
<circle cx="188.53" cy="384.4" r="2.8" class="o"/>
<circle cx="188.53" cy="389.5" r="2.8" class="o"/>
<circle cx="188.53" cy="396.6" r="2.8" class="o"/>
<circle cx="188.53" cy="418.3" r="2.9" fill="#70767c" stroke="#434a52" stroke-width="0.9"/>
<line x1="206.61" y1="397.3" x2="206.61" y2="411.3" class="u"/>
<line x1="206.61" y1="420.8" x2="206.61" y2="428.5" class="u"/>
<path d="M201.81 397.3h2.2M206.01 397.3h1.2M209.21 397.3h2.2" class="c"/>
<path d="M201.81 428.5h2.2M206.01 428.5h1.2M209.21 428.5h2.2" class="c"/>
<rect x="201.81" y="411.3" width="9.6" height="9.5" class="b"/>
<circle cx="206.61" cy="380.2" r="2.8" class="o"/>
<circle cx="206.61" cy="383.6" r="2.8" class="o"/>
<circle cx="206.61" cy="416.5" r="2.9" fill="#0a0ee0" stroke="#0000a8" stroke-width="0.9"/>
<line x1="224.69" y1="404.6" x2="224.69" y2="413.4" class="u"/>
<line x1="224.69" y1="422.6" x2="224.69" y2="430.3" class="u"/>
<path d="M219.89 404.6h2.2M224.09 404.6h1.2M227.29 404.6h2.2" class="c"/>
<path d="M219.89 430.3h2.2M224.09 430.3h1.2M227.29 430.3h2.2" class="c"/>
<rect x="219.89" y="413.4" width="9.6" height="9.2" class="b"/>
<circle cx="224.69" cy="387" r="2.8" class="o"/>
<circle cx="224.69" cy="399.2" r="2.8" class="o"/>
<circle cx="224.69" cy="433.6" r="2.8" class="o"/>
<circle cx="224.69" cy="436.2" r="2.8" class="o"/>
<circle cx="224.69" cy="418" r="2.9" fill="#f4a090" stroke="#e48a80" stroke-width="0.9"/>
<line x1="242.77" y1="396" x2="242.77" y2="410.6" class="u"/>
<line x1="242.77" y1="423.4" x2="242.77" y2="438.5" class="u"/>
<path d="M237.97 396h2.2M242.17 396h1.2M245.37 396h2.2" class="c"/>
<path d="M237.97 438.5h2.2M242.17 438.5h1.2M245.37 438.5h2.2" class="c"/>
<rect x="237.97" y="410.6" width="9.6" height="12.8" class="b"/>
<circle cx="242.77" cy="382" r="2.8" class="o"/>
<circle cx="242.77" cy="391" r="2.8" class="o"/>
<circle cx="242.77" cy="418.4" r="2.9" fill="#ea4a62" stroke="#c82a44" stroke-width="0.9"/>
<line x1="260.85" y1="363" x2="260.85" y2="380.4" class="u"/>
<line x1="260.85" y1="394" x2="260.85" y2="407.4" class="u"/>
<path d="M256.05 363h2.2M260.25 363h1.2M263.45 363h2.2" class="c"/>
<path d="M256.05 407.4h2.2M260.25 407.4h1.2M263.45 407.4h2.2" class="c"/>
<rect x="256.05" y="380.4" width="9.6" height="13.6" class="b"/>
<circle cx="260.85" cy="356" r="2.8" class="o"/>
<circle cx="260.85" cy="387.8" r="2.9" fill="#d0102a" stroke="#900018" stroke-width="0.9"/>
<line x1="160" y1="309.7" x2="272" y2="309.7" stroke="#6e6658" stroke-width="1.4"/>
<line x1="160" y1="317.2" x2="272" y2="317.2" stroke="#6e6658" stroke-width="1.4"/>
<rect x="272" y="309.5" width="112" height="8" fill="#fcf2da"/>
<text x="328" y="315.45" text-anchor="middle" font-size="5.8" fill="#3e3226" stroke="#3e3226" stroke-width="0.05" textLength="109" lengthAdjust="spacingAndGlyphs">3) chr12:RP11-78J21.1;chr12:HOXC4</text>
<line x1="309.57" y1="319.5" x2="309.57" y2="450.5" stroke="#d8d0d0" stroke-width="1" stroke-dasharray="1.5 5"/>
<line x1="282.45" y1="352.3" x2="282.45" y2="363.6" class="u"/>
<line x1="282.45" y1="384.5" x2="282.45" y2="403.3" class="u"/>
<path d="M277.65 352.3h2.2M281.85 352.3h1.2M285.05 352.3h2.2" class="c"/>
<path d="M277.65 403.3h2.2M281.85 403.3h1.2M285.05 403.3h2.2" class="c"/>
<rect x="277.65" y="363.6" width="9.6" height="20.9" class="b"/>
<circle cx="282.45" cy="368.4" r="2.9" fill="#7c7878" stroke="#484242" stroke-width="0.9"/>
<line x1="300.53" y1="397.1" x2="300.53" y2="406.5" class="u"/>
<line x1="300.53" y1="418.5" x2="300.53" y2="427.4" class="u"/>
<path d="M295.73 397.1h2.2M299.93 397.1h1.2M303.13 397.1h2.2" class="c"/>
<path d="M295.73 427.4h2.2M299.93 427.4h1.2M303.13 427.4h2.2" class="c"/>
<rect x="295.73" y="406.5" width="9.6" height="12" class="b"/>
<circle cx="300.53" cy="410.5" r="2.9" fill="#70767c" stroke="#434a52" stroke-width="0.9"/>
<line x1="318.61" y1="398.4" x2="318.61" y2="405.1" class="u"/>
<line x1="318.61" y1="415" x2="318.61" y2="423.1" class="u"/>
<path d="M313.81 398.4h2.2M318.01 398.4h1.2M321.21 398.4h2.2" class="c"/>
<path d="M313.81 423.1h2.2M318.01 423.1h1.2M321.21 423.1h2.2" class="c"/>
<rect x="313.81" y="405.1" width="9.6" height="9.9" class="b"/>
<circle cx="318.61" cy="385.6" r="2.8" class="o"/>
<circle cx="318.61" cy="409.7" r="2.9" fill="#0a0ee0" stroke="#0000a8" stroke-width="0.9"/>
<line x1="336.69" y1="394.4" x2="336.69" y2="403.3" class="u"/>
<line x1="336.69" y1="419.9" x2="336.69" y2="428.5" class="u"/>
<path d="M331.89 394.4h2.2M336.09 394.4h1.2M339.29 394.4h2.2" class="c"/>
<path d="M331.89 428.5h2.2M336.09 428.5h1.2M339.29 428.5h2.2" class="c"/>
<rect x="331.89" y="403.3" width="9.6" height="16.6" class="b"/>
<circle cx="336.69" cy="408.6" r="2.9" fill="#f4a090" stroke="#e48a80" stroke-width="0.9"/>
<line x1="354.77" y1="403" x2="354.77" y2="410.5" class="u"/>
<line x1="354.77" y1="418.5" x2="354.77" y2="426.6" class="u"/>
<path d="M349.97 403h2.2M354.17 403h1.2M357.37 403h2.2" class="c"/>
<path d="M349.97 426.6h2.2M354.17 426.6h1.2M357.37 426.6h2.2" class="c"/>
<rect x="349.97" y="410.5" width="9.6" height="8" class="b"/>
<circle cx="354.77" cy="397.9" r="2.8" class="o"/>
<circle cx="354.77" cy="432.7" r="2.8" class="o"/>
<circle cx="354.77" cy="414.5" r="2.9" fill="#ea4a62" stroke="#c82a44" stroke-width="0.9"/>
<line x1="372.85" y1="352.3" x2="372.85" y2="363.6" class="u"/>
<line x1="372.85" y1="384.5" x2="372.85" y2="403.3" class="u"/>
<path d="M368.05 352.3h2.2M372.25 352.3h1.2M375.45 352.3h2.2" class="c"/>
<path d="M368.05 403.3h2.2M372.25 403.3h1.2M375.45 403.3h2.2" class="c"/>
<rect x="368.05" y="363.6" width="9.6" height="20.9" class="b"/>
<circle cx="372.85" cy="368.4" r="2.9" fill="#d0102a" stroke="#900018" stroke-width="0.9"/>
<line x1="272" y1="309.7" x2="384" y2="309.7" stroke="#6e6658" stroke-width="1.4"/>
<line x1="272" y1="317.2" x2="384" y2="317.2" stroke="#6e6658" stroke-width="1.4"/>
<rect x="384" y="309.5" width="112" height="8" fill="#fcf2da"/>
<text x="440" y="315.45" text-anchor="middle" font-size="5.8" fill="#3e3226" stroke="#3e3226" stroke-width="0.05" textLength="89.5" lengthAdjust="spacingAndGlyphs">4) chr5:153830474-153844845</text>
<line x1="421.57" y1="319.5" x2="421.57" y2="450.5" stroke="#d8d0d0" stroke-width="1" stroke-dasharray="1.5 5"/>
<line x1="394.45" y1="356.3" x2="394.45" y2="372.2" class="u"/>
<line x1="394.45" y1="386.4" x2="394.45" y2="403.3" class="u"/>
<path d="M389.65 356.3h2.2M393.85 356.3h1.2M397.05 356.3h2.2" class="c"/>
<path d="M389.65 403.3h2.2M393.85 403.3h1.2M397.05 403.3h2.2" class="c"/>
<rect x="389.65" y="372.2" width="9.6" height="14.2" class="b"/>
<circle cx="394.45" cy="377" r="2.9" fill="#7c7878" stroke="#484242" stroke-width="0.9"/>
<line x1="412.53" y1="397.1" x2="412.53" y2="404.3" class="u"/>
<line x1="412.53" y1="413.2" x2="412.53" y2="419.9" class="u"/>
<path d="M407.73 397.1h2.2M411.93 397.1h1.2M415.13 397.1h2.2" class="c"/>
<path d="M407.73 419.9h2.2M411.93 419.9h1.2M415.13 419.9h2.2" class="c"/>
<rect x="407.73" y="404.3" width="9.6" height="8.9" class="b"/>
<circle cx="412.53" cy="389.8" r="2.8" class="o"/>
<circle cx="412.53" cy="409.7" r="2.9" fill="#70767c" stroke="#434a52" stroke-width="0.9"/>
<line x1="430.61" y1="389" x2="430.61" y2="397.1" class="u"/>
<line x1="430.61" y1="405.1" x2="430.61" y2="413.2" class="u"/>
<path d="M425.81 389h2.2M430.01 389h1.2M433.21 389h2.2" class="c"/>
<path d="M425.81 413.2h2.2M430.01 413.2h1.2M433.21 413.2h2.2" class="c"/>
<rect x="425.81" y="397.1" width="9.6" height="8" class="b"/>
<circle cx="430.61" cy="374.8" r="2.8" class="o"/>
<circle cx="430.61" cy="379.1" r="2.8" class="o"/>
<circle cx="430.61" cy="382.9" r="2.8" class="o"/>
<circle cx="430.61" cy="419.9" r="2.8" class="o"/>
<circle cx="430.61" cy="401.1" r="2.9" fill="#0a0ee0" stroke="#0000a8" stroke-width="0.9"/>
<line x1="448.69" y1="396.6" x2="448.69" y2="407.8" class="u"/>
<line x1="448.69" y1="419.9" x2="448.69" y2="430.6" class="u"/>
<path d="M443.89 396.6h2.2M448.09 396.6h1.2M451.29 396.6h2.2" class="c"/>
<path d="M443.89 430.6h2.2M448.09 430.6h1.2M451.29 430.6h2.2" class="c"/>
<rect x="443.89" y="407.8" width="9.6" height="12.1" class="b"/>
<circle cx="448.69" cy="389" r="2.8" class="o"/>
<circle cx="448.69" cy="415.9" r="2.9" fill="#f4a090" stroke="#e48a80" stroke-width="0.9"/>
<line x1="466.77" y1="389.8" x2="466.77" y2="399.8" class="u"/>
<line x1="466.77" y1="407.8" x2="466.77" y2="415.9" class="u"/>
<path d="M461.97 389.8h2.2M466.17 389.8h1.2M469.37 389.8h2.2" class="c"/>
<path d="M461.97 415.9h2.2M466.17 415.9h1.2M469.37 415.9h2.2" class="c"/>
<rect x="461.97" y="399.8" width="9.6" height="8" class="b"/>
<circle cx="466.77" cy="383.1" r="2.8" class="o"/>
<circle cx="466.77" cy="403.8" r="2.9" fill="#ea4a62" stroke="#c82a44" stroke-width="0.9"/>
<line x1="484.85" y1="356.3" x2="484.85" y2="372.2" class="u"/>
<line x1="484.85" y1="386.4" x2="484.85" y2="403.3" class="u"/>
<path d="M480.05 356.3h2.2M484.25 356.3h1.2M487.45 356.3h2.2" class="c"/>
<path d="M480.05 403.3h2.2M484.25 403.3h1.2M487.45 403.3h2.2" class="c"/>
<rect x="480.05" y="372.2" width="9.6" height="14.2" class="b"/>
<circle cx="484.85" cy="377" r="2.9" fill="#d0102a" stroke="#900018" stroke-width="0.9"/>
<line x1="384" y1="309.7" x2="496" y2="309.7" stroke="#6e6658" stroke-width="1.4"/>
<line x1="384" y1="317.2" x2="496" y2="317.2" stroke="#6e6658" stroke-width="1.4"/>
<line x1="48" y1="309.5" x2="48" y2="451.5" stroke="#333" stroke-width="1.2"/>
<line x1="160" y1="309.5" x2="160" y2="451.5" stroke="#333" stroke-width="1.2"/>
<line x1="272" y1="309.5" x2="272" y2="451.5" stroke="#333" stroke-width="1.2"/>
<line x1="384" y1="309.5" x2="384" y2="451.5" stroke="#333" stroke-width="1.2"/>
<line x1="496" y1="309.5" x2="496" y2="451.5" stroke="#333" stroke-width="1.2"/>
<line x1="48" y1="451.6" x2="496" y2="451.6" stroke="#444" stroke-width="1.3"/>
<line x1="496" y1="156.5" x2="503" y2="156.5" stroke="#333" stroke-width="1"/>
<line x1="41" y1="156.5" x2="48" y2="156.5" stroke="#333" stroke-width="1"/>
<text x="35" y="160.8" text-anchor="end" font-size="10.5" fill="#000" stroke="#000" stroke-width="0.3">−1</text>
<line x1="496" y1="134.7" x2="503" y2="134.7" stroke="#333" stroke-width="1"/>
<line x1="41" y1="134.7" x2="48" y2="134.7" stroke="#333" stroke-width="1"/>
<text x="35" y="139" text-anchor="end" font-size="10.5" fill="#000" stroke="#000" stroke-width="0.3">0</text>
<line x1="496" y1="112.9" x2="503" y2="112.9" stroke="#333" stroke-width="1"/>
<line x1="41" y1="112.9" x2="48" y2="112.9" stroke="#333" stroke-width="1"/>
<text x="35" y="117.2" text-anchor="end" font-size="10.5" fill="#000" stroke="#000" stroke-width="0.3">1</text>
<line x1="496" y1="91.1" x2="503" y2="91.1" stroke="#333" stroke-width="1"/>
<line x1="41" y1="91.1" x2="48" y2="91.1" stroke="#333" stroke-width="1"/>
<text x="35" y="95.4" text-anchor="end" font-size="10.5" fill="#000" stroke="#000" stroke-width="0.3">2</text>
<line x1="496" y1="69.3" x2="503" y2="69.3" stroke="#333" stroke-width="1"/>
<line x1="41" y1="69.3" x2="48" y2="69.3" stroke="#333" stroke-width="1"/>
<text x="35" y="73.6" text-anchor="end" font-size="10.5" fill="#000" stroke="#000" stroke-width="0.3">3</text>
<line x1="496" y1="47.5" x2="503" y2="47.5" stroke="#333" stroke-width="1"/>
<line x1="41" y1="47.5" x2="48" y2="47.5" stroke="#333" stroke-width="1"/>
<text x="35" y="51.8" text-anchor="end" font-size="10.5" fill="#000" stroke="#000" stroke-width="0.3">4</text>
<line x1="496" y1="299.25" x2="503" y2="299.25" stroke="#333" stroke-width="1"/>
<line x1="41" y1="299.25" x2="48" y2="299.25" stroke="#333" stroke-width="1"/>
<text x="508.5" y="303.55" font-size="10.5" fill="#000" stroke="#000" stroke-width="0.3">−1</text>
<line x1="496" y1="277.45" x2="503" y2="277.45" stroke="#333" stroke-width="1"/>
<line x1="41" y1="277.45" x2="48" y2="277.45" stroke="#333" stroke-width="1"/>
<text x="508.5" y="281.75" font-size="10.5" fill="#000" stroke="#000" stroke-width="0.3">0</text>
<line x1="496" y1="255.65" x2="503" y2="255.65" stroke="#333" stroke-width="1"/>
<line x1="41" y1="255.65" x2="48" y2="255.65" stroke="#333" stroke-width="1"/>
<text x="508.5" y="259.95" font-size="10.5" fill="#000" stroke="#000" stroke-width="0.3">1</text>
<line x1="496" y1="233.85" x2="503" y2="233.85" stroke="#333" stroke-width="1"/>
<line x1="41" y1="233.85" x2="48" y2="233.85" stroke="#333" stroke-width="1"/>
<text x="508.5" y="238.15" font-size="10.5" fill="#000" stroke="#000" stroke-width="0.3">2</text>
<line x1="496" y1="212.05" x2="503" y2="212.05" stroke="#333" stroke-width="1"/>
<line x1="41" y1="212.05" x2="48" y2="212.05" stroke="#333" stroke-width="1"/>
<text x="508.5" y="216.35" font-size="10.5" fill="#000" stroke="#000" stroke-width="0.3">3</text>
<line x1="496" y1="190.25" x2="503" y2="190.25" stroke="#333" stroke-width="1"/>
<line x1="41" y1="190.25" x2="48" y2="190.25" stroke="#333" stroke-width="1"/>
<text x="508.5" y="194.55" font-size="10.5" fill="#000" stroke="#000" stroke-width="0.3">4</text>
<line x1="496" y1="442" x2="503" y2="442" stroke="#333" stroke-width="1"/>
<line x1="41" y1="442" x2="48" y2="442" stroke="#333" stroke-width="1"/>
<text x="35" y="446.3" text-anchor="end" font-size="10.5" fill="#000" stroke="#000" stroke-width="0.3">−1</text>
<line x1="496" y1="420.2" x2="503" y2="420.2" stroke="#333" stroke-width="1"/>
<line x1="41" y1="420.2" x2="48" y2="420.2" stroke="#333" stroke-width="1"/>
<text x="35" y="424.5" text-anchor="end" font-size="10.5" fill="#000" stroke="#000" stroke-width="0.3">0</text>
<line x1="496" y1="398.4" x2="503" y2="398.4" stroke="#333" stroke-width="1"/>
<line x1="41" y1="398.4" x2="48" y2="398.4" stroke="#333" stroke-width="1"/>
<text x="35" y="402.7" text-anchor="end" font-size="10.5" fill="#000" stroke="#000" stroke-width="0.3">1</text>
<line x1="496" y1="376.6" x2="503" y2="376.6" stroke="#333" stroke-width="1"/>
<line x1="41" y1="376.6" x2="48" y2="376.6" stroke="#333" stroke-width="1"/>
<text x="35" y="380.9" text-anchor="end" font-size="10.5" fill="#000" stroke="#000" stroke-width="0.3">2</text>
<line x1="496" y1="354.8" x2="503" y2="354.8" stroke="#333" stroke-width="1"/>
<line x1="41" y1="354.8" x2="48" y2="354.8" stroke="#333" stroke-width="1"/>
<text x="35" y="359.1" text-anchor="end" font-size="10.5" fill="#000" stroke="#000" stroke-width="0.3">3</text>
<line x1="496" y1="333" x2="503" y2="333" stroke="#333" stroke-width="1"/>
<line x1="41" y1="333" x2="48" y2="333" stroke="#333" stroke-width="1"/>
<text x="35" y="337.3" text-anchor="end" font-size="10.5" fill="#000" stroke="#000" stroke-width="0.3">4</text>
<text transform="translate(60.45,461) rotate(-45)" text-anchor="end" font-size="7.4" fill="#111" stroke="#111" stroke-width="0.15">highRiskGroup</text>
<text transform="translate(78.53,461) rotate(-45)" text-anchor="end" font-size="7.4" fill="#111" stroke="#111" stroke-width="0.15">otherRiskGroup</text>
<text transform="translate(96.61,461) rotate(-45)" text-anchor="end" font-size="7.4" fill="#111" stroke="#111" stroke-width="0.15">normal</text>
<text transform="translate(114.69,461) rotate(-45)" text-anchor="end" font-size="7.4" fill="#111" stroke="#111" stroke-width="0.15">lowRisk</text>
<text transform="translate(132.77,461) rotate(-45)" text-anchor="end" font-size="7.4" fill="#111" stroke="#111" stroke-width="0.15">medRisk</text>
<text transform="translate(150.85,461) rotate(-45)" text-anchor="end" font-size="7.4" fill="#111" stroke="#111" stroke-width="0.15">highRisk</text>
<text transform="translate(172.45,461) rotate(-45)" text-anchor="end" font-size="7.4" fill="#111" stroke="#111" stroke-width="0.15">highRiskGroup</text>
<text transform="translate(190.53,461) rotate(-45)" text-anchor="end" font-size="7.4" fill="#111" stroke="#111" stroke-width="0.15">otherRiskGroup</text>
<text transform="translate(208.61,461) rotate(-45)" text-anchor="end" font-size="7.4" fill="#111" stroke="#111" stroke-width="0.15">normal</text>
<text transform="translate(226.69,461) rotate(-45)" text-anchor="end" font-size="7.4" fill="#111" stroke="#111" stroke-width="0.15">lowRisk</text>
<text transform="translate(244.77,461) rotate(-45)" text-anchor="end" font-size="7.4" fill="#111" stroke="#111" stroke-width="0.15">medRisk</text>
<text transform="translate(262.85,461) rotate(-45)" text-anchor="end" font-size="7.4" fill="#111" stroke="#111" stroke-width="0.15">highRisk</text>
<text transform="translate(284.45,461) rotate(-45)" text-anchor="end" font-size="7.4" fill="#111" stroke="#111" stroke-width="0.15">highRiskGroup</text>
<text transform="translate(302.53,461) rotate(-45)" text-anchor="end" font-size="7.4" fill="#111" stroke="#111" stroke-width="0.15">otherRiskGroup</text>
<text transform="translate(320.61,461) rotate(-45)" text-anchor="end" font-size="7.4" fill="#111" stroke="#111" stroke-width="0.15">normal</text>
<text transform="translate(338.69,461) rotate(-45)" text-anchor="end" font-size="7.4" fill="#111" stroke="#111" stroke-width="0.15">lowRisk</text>
<text transform="translate(356.77,461) rotate(-45)" text-anchor="end" font-size="7.4" fill="#111" stroke="#111" stroke-width="0.15">medRisk</text>
<text transform="translate(374.85,461) rotate(-45)" text-anchor="end" font-size="7.4" fill="#111" stroke="#111" stroke-width="0.15">highRisk</text>
<text transform="translate(396.45,461) rotate(-45)" text-anchor="end" font-size="7.4" fill="#111" stroke="#111" stroke-width="0.15">highRiskGroup</text>
<text transform="translate(414.53,461) rotate(-45)" text-anchor="end" font-size="7.4" fill="#111" stroke="#111" stroke-width="0.15">otherRiskGroup</text>
<text transform="translate(432.61,461) rotate(-45)" text-anchor="end" font-size="7.4" fill="#111" stroke="#111" stroke-width="0.15">normal</text>
<text transform="translate(450.69,461) rotate(-45)" text-anchor="end" font-size="7.4" fill="#111" stroke="#111" stroke-width="0.15">lowRisk</text>
<text transform="translate(468.77,461) rotate(-45)" text-anchor="end" font-size="7.4" fill="#111" stroke="#111" stroke-width="0.15">medRisk</text>
<text transform="translate(486.85,461) rotate(-45)" text-anchor="end" font-size="7.4" fill="#111" stroke="#111" stroke-width="0.15">highRisk</text>
</g>
</svg></body></html>
